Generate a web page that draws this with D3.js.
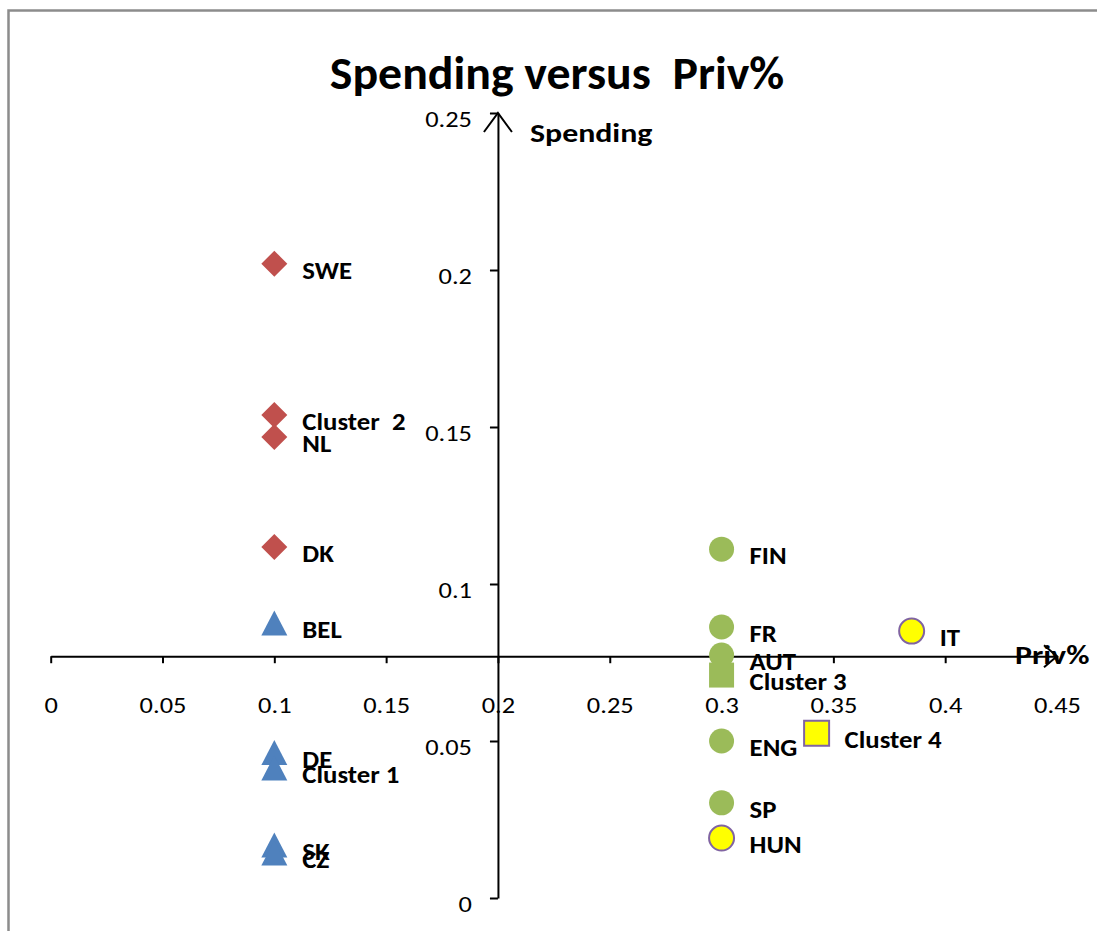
<!DOCTYPE html>
<html>
<head>
<meta charset="utf-8">
<script src="https://cdn.jsdelivr.net/npm/d3@7"></script>
<style>
  html, body { margin: 0; padding: 0; background: #fff; }
  svg text { font-family: Carlito, Lato, "Open Sans", sans-serif; white-space: pre; }
</style>
</head>
<body>
<svg id="chart" width="1097" height="931"></svg>
<script>
// ---- data ----
const xTicks = [0, 0.05, 0.1, 0.15, 0.2, 0.25, 0.3, 0.35, 0.4, 0.45];
const xTickLabels = ["0", "0.05", "0.1", "0.15", "0.2", "0.25", "0.3", "0.35", "0.4", "0.45"];
const yTicks = [0, 0.05, 0.1, 0.15, 0.2, 0.25];
const yTickLabels = ["0", "0.05", "0.1", "0.15", "0.2", "0.25"];

const cluster1Labels = ["BEL", "DE", "Cluster 1", "SK", "CZ"];
const cluster1X = [0.1, 0.1, 0.1, 0.1, 0.1];
const cluster1Y = [0.0876, 0.0463, 0.0414, 0.0169, 0.0143];

const cluster2Labels = ["SWE", "Cluster  2", "NL", "DK"];
const cluster2X = [0.1, 0.1, 0.1, 0.1];
const cluster2Y = [0.202, 0.1538, 0.1468, 0.1118];

const cluster3Labels = ["FIN", "FR", "AUT", "ENG", "SP"];
const cluster3X = [0.3, 0.3, 0.3, 0.3, 0.3];
const cluster3Y = [0.1111, 0.0863, 0.0774, 0.05, 0.0303];
const cluster3CentroidLabel = ["Cluster 3"];
const cluster3CentroidX = [0.3];
const cluster3CentroidY = [0.071];

const cluster4Labels = ["IT", "HUN"];
const cluster4X = [0.385, 0.3];
const cluster4Y = [0.085, 0.0191];
const cluster4CentroidLabel = ["Cluster 4"];
const cluster4CentroidX = [0.3425];
const cluster4CentroidY = [0.0525];

const xCross = 0.077;   // where the Priv% axis crosses the Spending axis
const yCross = 0.2;     // where the Spending axis crosses the Priv% axis

const titleText = "Spending versus  Priv%";
const xAxisTitle = "Priv%";
const yAxisTitle = "Spending";

// ---- drawing ----
const svg = d3.select("#chart");
svg.append("rect").attr("width", 1097).attr("height", 931).attr("fill", "#fff");
// chart frame (only left & top edges visible)
svg.append("rect").attr("x", 8.5).attr("y", 10.5).attr("width", 1200).attr("height", 1000)
  .attr("fill", "none").attr("stroke", "#8c8c8c").attr("stroke-width", 2.5);

const x = d3.scaleLinear().domain([0, 0.45]).range([50.7, 1057]);
const y = d3.scaleLinear().domain([0, 0.25]).range([898, 113]);

// horizontal stretch of text about its anchor point (source font is wider)
function stretch(sel, k) {
  sel.each(function () {
    const t = d3.select(this);
    const tx = +t.attr("x") || 0, ty = +t.attr("y") || 0;
    t.attr("transform", `translate(${tx},${ty}) scale(${k},1) translate(${-tx},${-ty})`);
  });
}

// title
svg.append("text").attr("x", 557).attr("y", 89).attr("text-anchor", "middle")
  .attr("font-size", 46).attr("font-weight", "bold").text(titleText)
  .call(stretch, 1.04);

// x axis
const xAxisG = svg.append("g").attr("transform", `translate(0,${y(xCross)})`)
  .call(d3.axisBottom(x).tickValues(xTicks).tickSize(7).tickSizeOuter(0)
    .tickFormat((d, i) => xTickLabels[i]));
xAxisG.select(".domain").attr("stroke", "#000").attr("stroke-width", 2);
xAxisG.selectAll(".tick line").attr("stroke", "#000").attr("stroke-width", 2);
xAxisG.selectAll(".tick text").attr("y", 49).attr("dy", "0.35em")
  .attr("font-size", 22).attr("fill", "#000")
  .style("font-family", "Carlito, Lato, sans-serif")
  .call(stretch, 1.2);

// y axis
const yAxisG = svg.append("g").attr("transform", `translate(${x(yCross)},0)`)
  .call(d3.axisLeft(y).tickValues(yTicks).tickSize(8).tickSizeOuter(0)
    .tickFormat((d, i) => yTickLabels[i]));
yAxisG.select(".domain").attr("stroke", "#000").attr("stroke-width", 2);
yAxisG.selectAll(".tick line").attr("stroke", "#000").attr("stroke-width", 2);
yAxisG.selectAll(".tick text").attr("x", -26).attr("dy", "0.6em")
  .attr("font-size", 22).attr("fill", "#000")
  .style("font-family", "Carlito, Lato, sans-serif")
  .call(stretch, 1.2);

// arrow heads
const ax = x(0.45), ay = y(xCross);
svg.append("path").attr("d", `M${ax - 13},${ay - 11}L${ax},${ay}L${ax - 13},${ay + 11}`)
  .attr("fill", "none").attr("stroke", "#000").attr("stroke-width", 2);
const bx = x(yCross), by = y(0.25);
svg.append("path").attr("d", `M${bx - 14},${by + 19}L${bx},${by}L${bx + 14},${by + 19}`)
  .attr("fill", "none").attr("stroke", "#000").attr("stroke-width", 2);

// axis titles
svg.append("text").attr("x", 530).attr("y", 142).attr("font-size", 27)
  .attr("font-weight", "bold").text(yAxisTitle).call(stretch, 1.18);
svg.append("text").attr("x", 1015).attr("y", 664).attr("font-size", 27)
  .attr("font-weight", "bold").text(xAxisTitle).call(stretch, 1.18);

// marker shapes
const shapes = {
  diamond: "M0,-13L13,0L0,13L-13,0Z",
  triangle: "M0,-12.5L13,12.5L-13,12.5Z",
  square: "M-12.5,-12.5H12.5V12.5H-12.5Z",
  circle: d3.symbol(d3.symbolCircle, Math.PI * 12.5 * 12.5)()
};

function series(labels, xs, ys, shape, fill, stroke, sw) {
  const data = labels.map((l, i) => ({ label: l, x: xs[i], y: ys[i] }));
  const g = svg.append("g");
  g.selectAll("path").data(data).join("path")
    .attr("transform", d => `translate(${x(d.x)},${y(d.y)})`)
    .attr("d", shapes[shape]).attr("fill", fill)
    .attr("stroke", stroke || "none").attr("stroke-width", sw || 0);
  return data;
}
function labels(data) {
  svg.append("g").selectAll("text").data(data).join("text")
    .attr("x", d => x(d.x) + 28).attr("y", d => y(d.y) + 15)
    .attr("font-size", 23.5).attr("font-weight", "bold").attr("fill", "#000")
    .text(d => d.label)
    .call(stretch, 1.14);
}

const s2 = series(cluster2Labels, cluster2X, cluster2Y, "diamond", "#C0504D");
const s1 = series(cluster1Labels, cluster1X, cluster1Y, "triangle", "#4F81BD");
const s3 = series(cluster3Labels, cluster3X, cluster3Y, "circle", "#9BBB59");
const s3c = series(cluster3CentroidLabel, cluster3CentroidX, cluster3CentroidY, "square", "#9BBB59");
const s4 = series(cluster4Labels, cluster4X, cluster4Y, "circle", "#FFFF00", "#8064A2", 2);
const s4c = series(cluster4CentroidLabel, cluster4CentroidX, cluster4CentroidY, "square", "#FFFF00", "#8064A2", 2);

[s2, s1, s3, s3c, s4, s4c].forEach(labels);
</script>
</body>
</html>
